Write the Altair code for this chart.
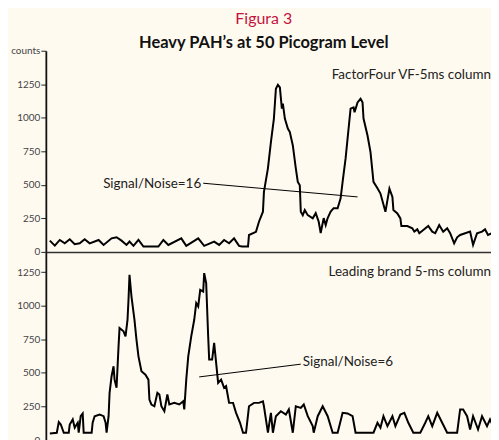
import altair as alt
import pandas as pd

# ---------------- data ----------------
# x: scan index (arbitrary time units), y: counts
top_x = [4, 9, 14, 19, 24, 29, 34, 39, 44, 53,
         58, 66, 71, 76, 81, 84, 88, 93, 98, 113,
         118, 123, 136, 141, 153, 159, 169, 174, 179, 184,
         189, 194, 197, 203, 204, 211, 214, 218, 219, 223,
         226, 229, 231, 233, 235, 237, 238, 240, 243, 245,
         248, 251, 253, 255, 256, 258, 260, 263, 268, 271,
         274, 276, 279, 281, 283, 286, 289, 293, 296, 298,
         301, 303, 306, 309, 310, 313, 316, 318, 319, 323,
         326, 329, 333, 336, 341, 345, 348, 349, 353, 356,
         357, 363, 368, 370, 373, 375, 379, 384, 388, 391,
         395, 399, 403, 406, 410, 413, 416, 421, 426, 429,
         433, 438, 441, 444, 448, 451, 453]
top_y = [84, 47, 89, 64, 94, 57, 64, 94, 64, 89,
         52, 101, 109, 84, 52, 77, 45, 89, 40, 40,
         89, 52, 101, 45, 101, 45, 77, 52, 89, 64,
         101, 45, 40, 40, 126, 150, 225, 300, 447, 623,
         818, 994, 1217, 1246, 1226, 1068, 1105, 994, 920, 893,
         794, 623, 522, 497, 300, 274, 312, 274, 250, 289,
         225, 141, 252, 200, 252, 300, 326, 326, 400, 522,
         697, 846, 1068, 1078, 1041, 1115, 1142, 1115, 994, 868,
         744, 522, 474, 435, 299, 472, 410, 312, 287, 250,
         193, 193, 176, 151, 168, 139, 163, 193, 151, 139,
         200, 151, 176, 139, 64, 109, 126, 139, 151, 52,
         139, 151, 168, 126, 139, 64, 101]

bot_x = [4, 11, 13, 15, 18, 23, 24, 27, 29, 32,
         33, 35, 37, 38, 46, 47, 49, 54, 58, 60,
         61, 63, 64, 66, 68, 69, 71, 73, 74, 78,
         80, 82, 83, 84, 86, 89, 91, 93, 96, 100,
         103, 104, 106, 109, 112, 114, 116, 119, 122, 124,
         129, 134, 138, 139, 141, 143, 146, 149, 151, 153,
         155, 158, 159, 161, 163, 164, 167, 169, 171, 173,
         176, 179, 181, 184, 188, 191, 195, 198, 201, 204,
         209, 214, 218, 219, 223, 226, 228, 231, 236, 241,
         244, 248, 251, 256, 259, 263, 268, 269, 273, 278,
         283, 288, 293, 298, 303, 308, 311, 329, 333, 336,
         339, 343, 348, 351, 356, 360, 364, 369, 376, 381,
         384, 388, 393, 398, 403, 413, 416, 419, 423, 426,
         429, 434, 438, 443, 446, 449, 453]
bot_y = [50, 55, 134, 116, 55, 55, 116, 154, 92, 129,
         55, 178, 198, 55, 55, 129, 178, 190, 178, 129,
         55, 178, 352, 475, 549, 450, 389, 697, 834, 809,
         772, 895, 1044, 1229, 1068, 895, 747, 623, 512, 487,
         450, 302, 265, 252, 352, 339, 252, 215, 339, 265,
         277, 265, 289, 228, 450, 623, 772, 895, 1019, 994,
         1118, 1105, 1242, 1168, 772, 599, 599, 723, 574, 426,
         450, 389, 401, 277, 277, 203, 129, 55, 55, 252,
         277, 277, 289, 252, 55, 203, 55, 178, 215, 190,
         228, 55, 252, 240, 265, 178, 104, 55, 178, 252,
         178, 55, 55, 203, 198, 178, 55, 55, 129, 92,
         178, 104, 178, 104, 190, 203, 129, 55, 55, 129,
         178, 104, 203, 129, 55, 55, 228, 228, 178, 79,
         178, 79, 178, 104, 154, 104, 190]

title_main = "Figura 3"
title_sub = "Heavy PAH\u2019s at 50 Picogram Level"

top_ticks = [0, 250, 500, 750, 1000, 1250, 1500]
bot_ticks = [0, 250, 500, 750, 1000, 1250]

# annotations: column label, S/N label, S/N leader line
top_col_label = ["FactorFour VF-5ms column"]
top_col_pos = [447, 1320]
top_sn_label = ["Signal/Noise=16"]
top_sn_pos = [156, 504]
top_sn_line = [158, 512, 313, 410]

bot_col_label = ["Leading brand 5-ms column"]
bot_col_pos = [447, 1250]
bot_sn_label = ["Signal/Noise=6"]
bot_sn_pos = [258, 584]
bot_sn_line = [154, 470, 256, 565]

X_DOMAIN = [0, 447]
FONT = "Lato"
BG = "#fffaf0"


def panel(xs, ys, y_domain, ticks, height, col_label, col_pos, sn_label, sn_pos,
          sn_align, sn_line, show_x_line, counts_top):
    xscale = alt.Scale(domain=X_DOMAIN, nice=False, zero=False)
    yscale = alt.Scale(domain=y_domain, nice=False, zero=False)
    if show_x_line:
        xaxis = alt.Axis(title=None, labels=False, ticks=False, grid=False,
                         domain=True, domainColor="#333333", domainWidth=1.5,
                         minExtent=0, maxExtent=0, labelPadding=0,
                         titlePadding=0)
    else:
        xaxis = None
    label_expr = "datum.label"
    if counts_top:
        label_expr = "datum.value == %d ? 'counts' : datum.label" % counts_top
    yaxis = alt.Axis(title=None, values=ticks, grid=False, format="d",
                     labelExpr=label_expr,
                     labelFlush=False, labelOverlap=False, tickSize=5,
                     tickColor="#222222", tickWidth=1, domainColor="#111111",
                     domainWidth=1.8, labelColor="#444444", labelFont=FONT,
                     labelFontSize=10, labelPadding=1,
                     minExtent=34, maxExtent=34)

    X = alt.X("t:Q", scale=xscale, axis=xaxis)
    Y = alt.Y("c:Q", scale=yscale, axis=yaxis)

    trace = alt.Chart(pd.DataFrame({"t": xs, "c": ys})).mark_line(
        color="black", strokeWidth=2, strokeJoin="miter", clip=True
    ).encode(x=X, y=Y)

    line_df = pd.DataFrame({"t": [sn_line[0]], "c": [sn_line[1]],
                            "t2": [sn_line[2]], "c2": [sn_line[3]]})
    leader = alt.Chart(line_df).mark_rule(color="black", strokeWidth=1).encode(
        x=X, y=Y, x2="t2:Q", y2="c2:Q")

    col_df = pd.DataFrame({"t": [col_pos[0]], "c": [col_pos[1]], "s": col_label})
    col_text = alt.Chart(col_df).mark_text(
        align="right", baseline="middle", font=FONT, fontSize=13.5,
        color="#222222").encode(x=X, y=Y, text="s:N")

    sn_df = pd.DataFrame({"t": [sn_pos[0]], "c": [sn_pos[1]], "s": sn_label})
    sn_text = alt.Chart(sn_df).mark_text(
        align=sn_align, baseline="middle", font=FONT, fontSize=13.5,
        color="#222222").encode(x=X, y=Y, text="s:N")

    return alt.layer(trace, leader, col_text, sn_text).properties(
        width=447, height=height)


top = panel(top_x, top_y, [0, 1500], top_ticks, 202, top_col_label, top_col_pos,
            top_sn_label, top_sn_pos, "right", top_sn_line, True, 1500)
bottom = panel(bot_x, bot_y, [0, 1400], bot_ticks, 189, bot_col_label, bot_col_pos,
               bot_sn_label, bot_sn_pos, "left", bot_sn_line, False, None)

chart = alt.vconcat(top, bottom, spacing=0, bounds="flush").properties(
    title=alt.TitleParams(
        text=title_main, subtitle=title_sub, anchor="middle",
        font=FONT, fontSize=16, fontWeight="normal", color="#c4123f",
        subtitleFont=FONT, subtitleFontSize=16.5, subtitleFontWeight="bold",
        subtitleColor="#111111", subtitlePadding=8, offset=-6, dx=13),
    background=BG,
    padding={"left": 2, "top": 2, "right": 0, "bottom": 0},
).configure_view(stroke=None).configure_concat(spacing=0)

chart.save("out.html", embed_options={"renderer": "svg", "actions": False})
